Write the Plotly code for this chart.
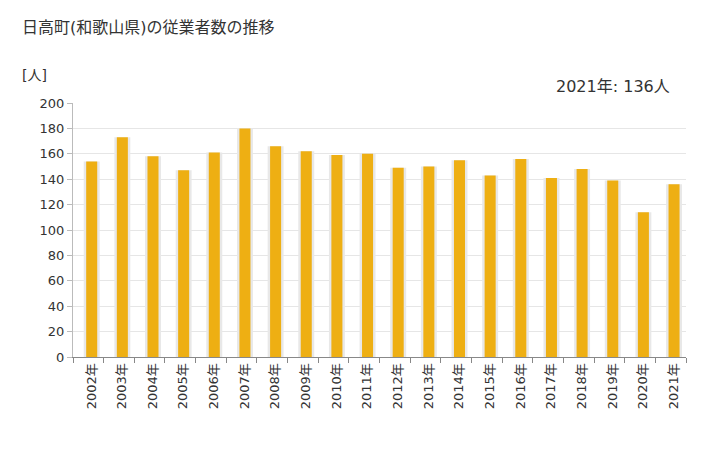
import plotly.graph_objects as go

years = ["2002年", "2003年", "2004年", "2005年", "2006年", "2007年", "2008年", "2009年", "2010年", "2011年",
         "2012年", "2013年", "2014年", "2015年", "2016年", "2017年", "2018年", "2019年", "2020年", "2021年"]
employees = [154, 173, 158, 147, 161, 180, 166, 162, 159, 160,
             149, 150, 155, 143, 156, 141, 148, 139, 114, 136]

title_text = "日高町(和歌山県)の従業者数の推移"
unit_text = "[人]"
latest_text = "2021年: 136人"

font_family = "DejaVu Sans, Noto Sans CJK JP, sans-serif"

# page body offsets the figure by 8px; compensate
OFF = 8
L, R, T, B = 73 - OFF, 42 + OFF, 103 - OFF, 93 + OFF
W, H = 728, 450

fig = go.Figure()
# shadow
fig.add_trace(go.Bar(x=years, y=employees, width=0.52, offset=-0.15,
                     marker=dict(color="#e8e8e8", line=dict(width=0)),
                     hoverinfo="skip", showlegend=False))
fig.add_trace(go.Bar(x=years, y=employees, width=0.36, offset=-0.07,
                     marker=dict(color="#EEAF13", line=dict(width=0)),
                     showlegend=False))

fig.update_layout(
    width=W, height=H,
    margin=dict(l=L, r=R, t=T, b=B),
    paper_bgcolor="white", plot_bgcolor="white",
    barmode="overlay",
    font=dict(family=font_family, size=13, color="#333333"),
    xaxis=dict(type="category", tickangle=-90, tickson="boundaries",
               ticks="outside", ticklen=5, tickcolor="#888888",
               showline=True, linecolor="#888888", linewidth=1,
               showgrid=False, ticklabelshift=3,
               tickfont=dict(size=13, color="#333333")),
    yaxis=dict(range=[0, 200], dtick=20, showgrid=True, gridcolor="#e6e6e6",
               ticks="outside", ticklen=5, tickcolor="#bbbbbb",
               showline=True, linecolor="#bbbbbb", linewidth=1,
               zeroline=False, tickfont=dict(size=13, color="#333333")),
    annotations=[
        dict(text=title_text, x=20, y=27, showarrow=False,
             font=dict(size=16, color="#333333"), xanchor="left", yanchor="middle"),
        dict(text=unit_text, x=20, y=75, showarrow=False,
             font=dict(size=14, color="#333333"), xanchor="left", yanchor="middle"),
        dict(text=latest_text, x=672, y=87, showarrow=False,
             font=dict(size=16, color="#333333"), xanchor="right", yanchor="middle"),
    ],
)
# convert window-pixel-positioned annotations to paper coords
pw = W - L - R
ph = H - T - B
for a in fig.layout.annotations:
    px, py = a.x - OFF, a.y - OFF
    a.x = (px - L) / pw
    a.y = (H - B - py) / ph
    a.xref = "paper"
    a.yref = "paper"

fig.write_html("out.html")
